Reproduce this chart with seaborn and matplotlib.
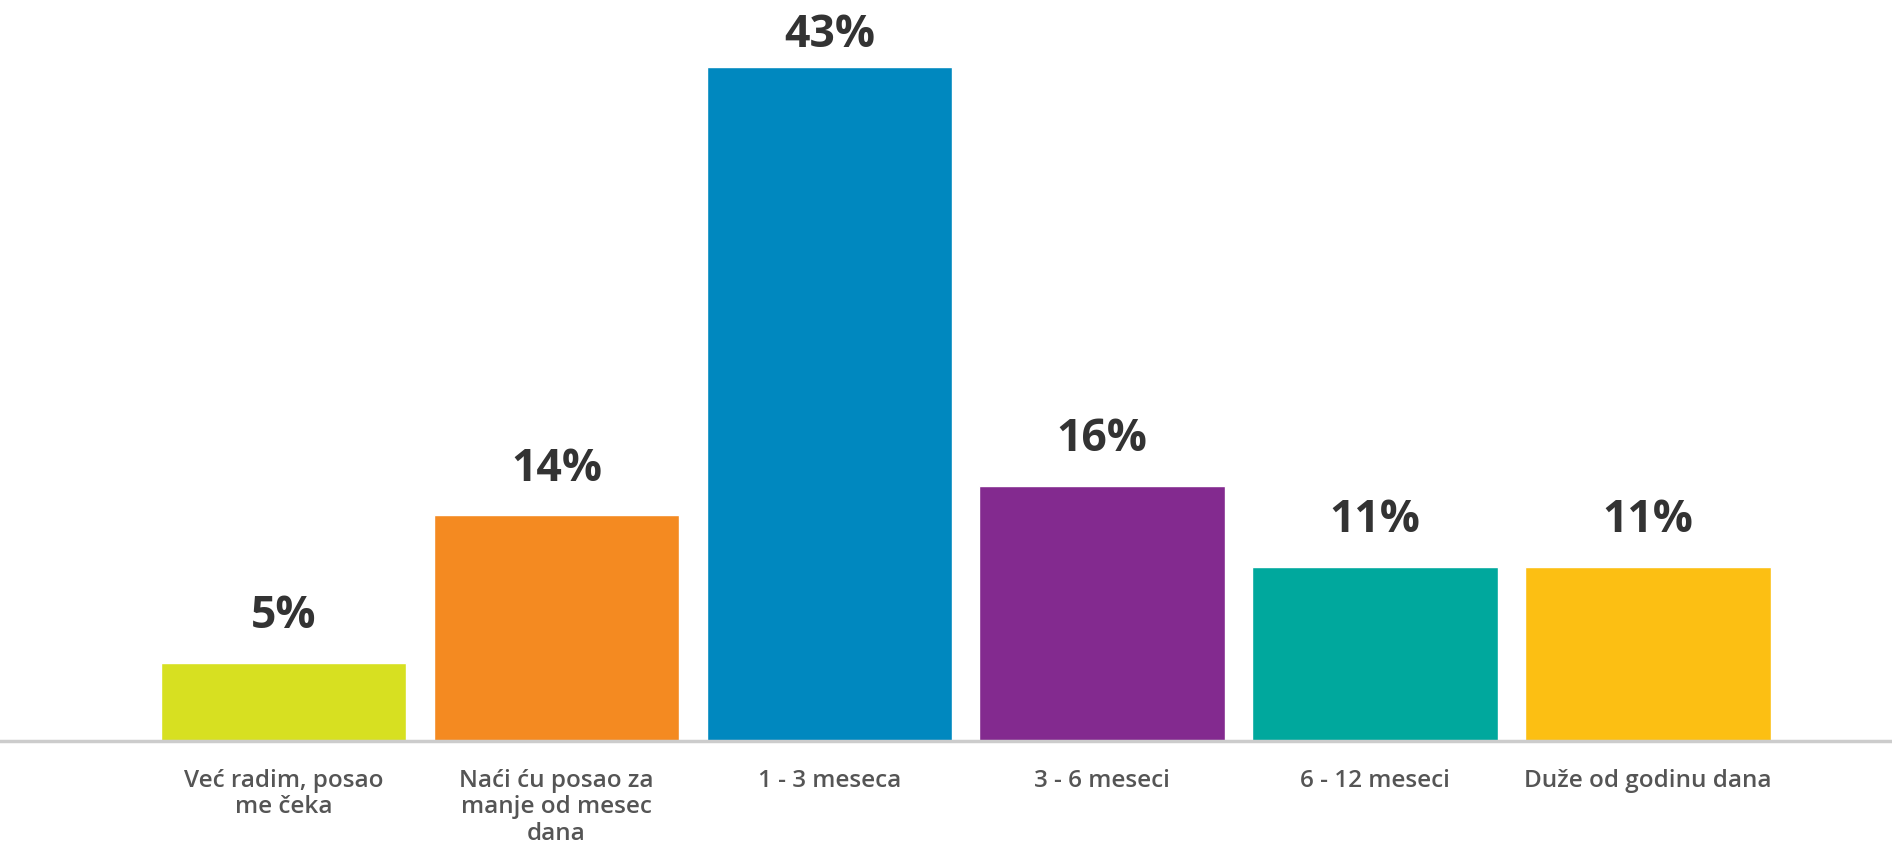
import matplotlib
matplotlib.use("Agg")
import matplotlib.pyplot as plt
import seaborn as sns
import pandas as pd

categories = ["Već radim, posao\nme čeka", "Naći ću posao za\nmanje od mesec\ndana", "1 - 3 meseca",
              "3 - 6 meseci", "6 - 12 meseci", "Duže od godinu dana"]
values = [5.0, 14.4, 43.0, 16.3, 11.1, 11.1]
value_labels = ["5%", "14%", "43%", "16%", "11%", "11%"]
colors = ["#D7E021", "#F48A21", "#0088BF", "#832A8F", "#00A89D", "#FCBF13"]

sns.set_theme(style="white")
plt.rcParams['font.family'] = ['Open Sans', 'DejaVu Sans']

df = pd.DataFrame({"cat": categories, "val": values})

fig = plt.figure(figsize=(18.92, 8.5), dpi=100)
ax = fig.add_axes([0, 1 - 741 / 850, 1, 741 / 850])
sns.barplot(data=df, x="cat", y="val", hue="cat", palette=colors, legend=False,
            width=0.9, saturation=1, ax=ax)

ax.set_xlim(-1.039, 5.894)
ax.set_ylim(0, 47.3)
ax.set_xlabel("")
ax.set_ylabel("")
ax.set_yticks([])
for s in ["top", "right", "left"]:
    ax.spines[s].set_visible(False)
ax.spines["bottom"].set_color("#cccccc")
ax.spines["bottom"].set_linewidth(2.5)
ax.tick_params(axis="x", length=0, pad=20)
for lbl in ax.get_xticklabels():
    lbl.set_fontsize(17.5)
    lbl.set_fontweight("semibold")
    lbl.set_color("#555555")
    lbl.set_linespacing(1.15)
    lbl.set_va("top")

for i, (v, t) in enumerate(zip(values, value_labels)):
    off = 7 if v == max(values) else 17
    ax.annotate(t, (i, v), xytext=(0, off), textcoords="offset points",
                ha="center", va="bottom", fontsize=32, fontweight="bold", color="#333333")

fig.savefig("out.png", dpi=100)
